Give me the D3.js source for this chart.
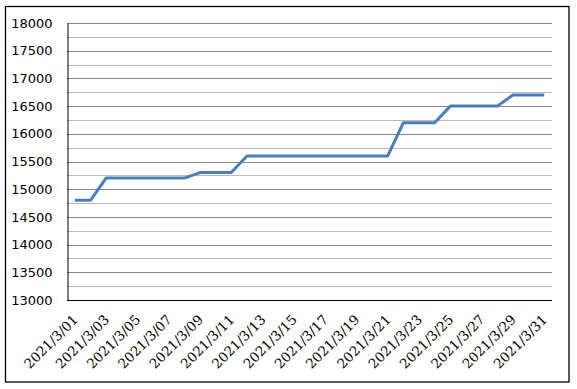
<!DOCTYPE html>
<html><head><meta charset="utf-8">
<script src="https://cdn.jsdelivr.net/npm/d3@7"></script>
<style>body{margin:0;background:#fff}</style>
</head><body>
<svg id="c" width="577" height="389"></svg>
<script>
const dates = d3.range(1, 32).map(d => "2021/3/" + String(d).padStart(2, "0"));
const values = [14800,14800,15200,15200,15200,15200,15200,15200,15300,15300,15300,15600,15600,15600,15600,15600,15600,15600,15600,15600,15600,16200,16200,16200,16500,16500,16500,16500,16700,16700,16700];
const yTicks = [13000,13500,14000,14500,15000,15500,16000,16500,17000,17500,18000];
const yMinor = [13250,13750,14250,14750,15250,15750,16250,16750,17250,17750];

const svg = d3.select("#c");
const L = 67, R = 552, T = 23, B = 300;
svg.append("rect").attr("x",5.5).attr("y",6.5).attr("width",563.5).attr("height",375.5)
  .attr("fill","#fff").attr("stroke","#000").attr("stroke-width",1.3);

const x = d3.scaleBand().domain(dates).range([L, R]);
const y = d3.scaleLinear().domain([13000, 18000]).range([B, T]);

svg.append("g").selectAll("line").data(yMinor).join("line")
  .attr("x1", L).attr("x2", R).attr("y1", d => Math.round(y(d))+0.5).attr("y2", d => Math.round(y(d))+0.5)
  .attr("stroke", "#b8b8b8").attr("stroke-width", 1);
svg.append("g").selectAll("line").data(yTicks.slice(1)).join("line")
  .attr("x1", L).attr("x2", R).attr("y1", d => Math.round(y(d))+0.5).attr("y2", d => Math.round(y(d))+0.5)
  .attr("stroke", "#868686").attr("stroke-width", 1);

const yAxis = svg.append("g").attr("transform", `translate(${L+0.5},0)`)
  .call(d3.axisLeft(y).tickValues(yTicks).tickSize(0).tickPadding(15).tickFormat(d3.format("d")));
yAxis.select(".domain").attr("stroke", "#000");
yAxis.selectAll("text").attr("font-family", "DejaVu Sans, sans-serif").attr("font-size", 13).attr("fill", "#000");

const xAxis = svg.append("g").attr("transform", `translate(0,${B+0.5})`)
  .call(d3.axisBottom(x).tickValues(dates.filter((d,i)=>i%2===0)).tickSize(0).tickPadding(0));
xAxis.select(".domain").attr("stroke", "#000").attr("d", `M${L},0H${R}`);
xAxis.selectAll("text").attr("font-family", "DejaVu Serif, serif").attr("font-size", 13.5).attr("fill","#000")
  .attr("text-anchor", "end").attr("dy", 0)
  .attr("transform", "translate(4,20) rotate(-45)");

const line = d3.line().x((d,i) => x(dates[i]) + x.bandwidth()/2).y(d => y(d));
svg.append("path").datum(values).attr("d", line).attr("fill","none")
  .attr("stroke", "#4a7ebb").attr("stroke-width", 3).attr("stroke-linejoin","round");
</script>
</body></html>
